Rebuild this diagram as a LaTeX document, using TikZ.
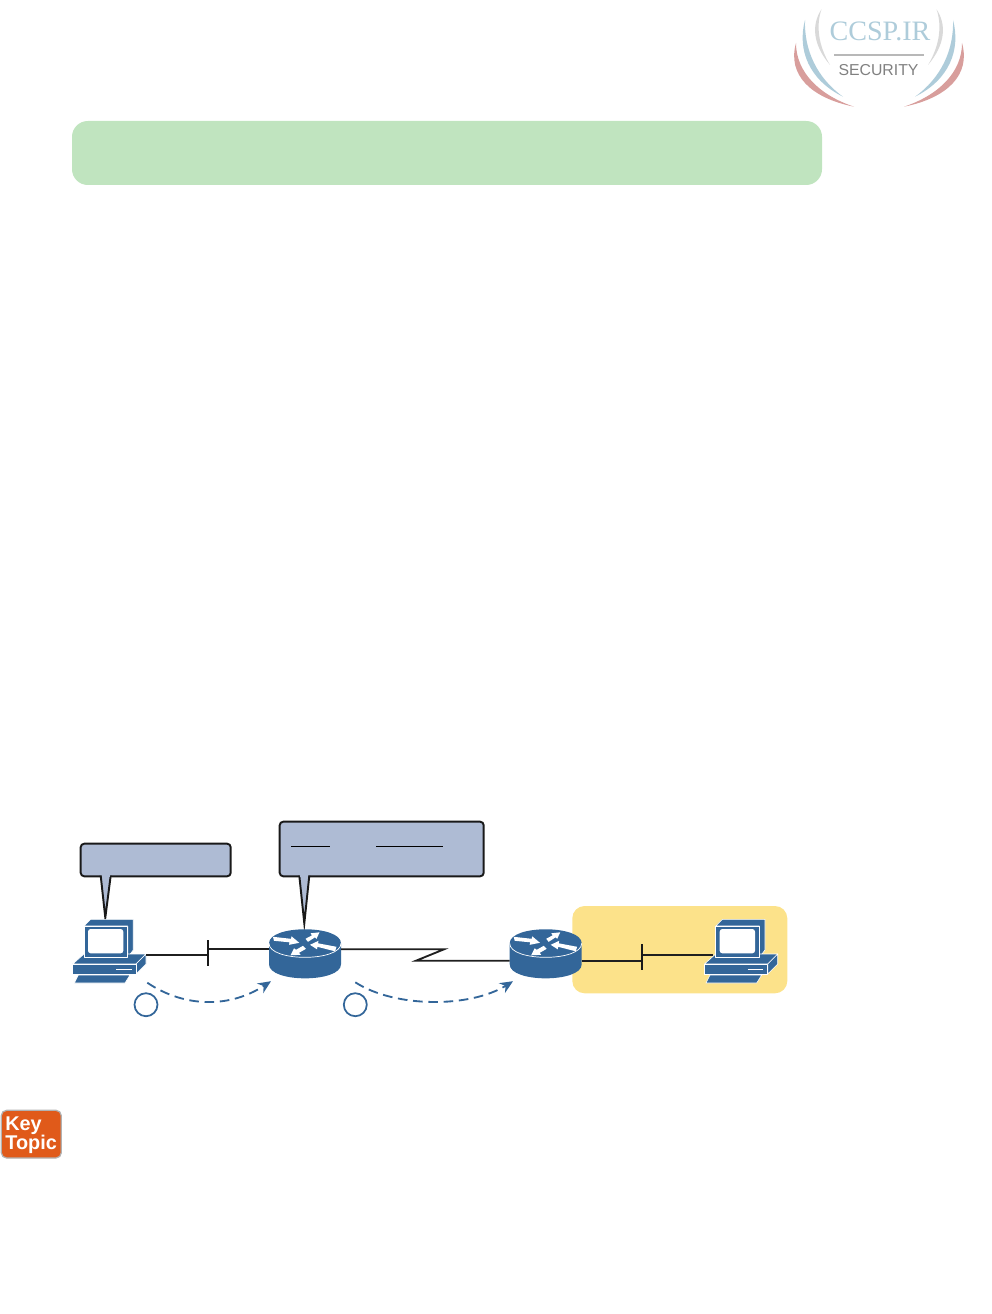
\documentclass[tikz,border=0pt]{standalone}
\usepackage{xcolor}
\usepackage{fontspec}
\usepackage{tikz}
\usetikzlibrary{arrows.meta, calc}
\newfontfamily\logoserif{Liberation Serif}
\newfontfamily\tagsans{Liberation Sans}
\definecolor{iconblue}{HTML}{336699}
\definecolor{bubblefill}{HTML}{AEBBD4}
\definecolor{barfill}{HTML}{C0E4BF}
\definecolor{lanfill}{HTML}{FCE28A}
\definecolor{tagfill}{HTML}{E05A1A}
\definecolor{logoblue}{HTML}{AECCDA}
\definecolor{logored}{HTML}{D89E9C}
\definecolor{logogray}{HTML}{D9D9D9}

\begin{document}
\begin{tikzpicture}[
    x=0.02cm, y=-0.02cm,
    wire/.style={line width=1.05pt, black!88},
    ticklan/.style={line width=1.15pt, black!90},
    bubble/.style={draw=black!90, fill=bubblefill, line width=1.1pt, line join=miter},
    hairline/.style={line width=0.45pt, black},
    flowarc/.style={-{Stealth[length=2.6mm, width=2.3mm]}, iconblue, line width=1.05pt, dash pattern=on 5.5pt off 3.2pt},
    stepring/.style={draw=iconblue, circle, line width=1pt, minimum size=0.46cm, inner sep=0pt},
    iconface/.style={fill=iconblue, draw=white, line width=0.35pt, line join=round},
    logotext/.style={inner sep=0pt, anchor=base},
    tagtext/.style={inner sep=0pt, anchor=base west, text=white, font=\tagsans\bfseries\fontsize{11.3}{11.3}\selectfont},
    pcicon/.pic={
        \path[iconface] (-26,-24) -- (-19.3,-30.7) -- (23.3,-30.7) -- (23.3,0) -- (17.7,7.3) -- (17.7,-24) -- cycle;
        \path[iconface] (-37.3,14) -- (-26,4) -- (36,4) -- (26,14) -- cycle;
        \path[iconface] (26,14) -- (36,4) -- (36,14) -- (26,24) -- cycle;
        \path[iconface] (-37.3,14) rectangle (26,24);
        \path[iconface] (-26,-24) rectangle (17.7,7.3);
        \fill[white, rounded corners=1.5pt] (-22,-21) rectangle (13.3,3.3);
        \draw[white, line width=0.4pt] (6,19.3) -- (21.7,19.3);
        \path[iconface] (-31.7,25) -- (20,25) -- (15,33) -- (-35.7,33) -- cycle;
        \coordinate (-east) at (36,5);
        \coordinate (-west) at (-29,5);
    },
    routericon/.pic={
        \fill[iconblue] (-36,0) -- (-36,21) .. controls (-36,39.7) and (36,39.7) .. (36,21) -- (36,0)
            .. controls (36,-18.7) and (-36,-18.7) .. cycle;
        \draw[white, line width=0.4pt] (-36,0) .. controls (-36,18.7) and (36,18.7) .. (36,0);
        \fill[white] (-32,-6.5) -- (-14,-4.5) -- (-13.5,-7) -- (-5.7,-0.5) -- (-16,1.5) -- (-15.5,-1) -- (-31,-2.5) -- cycle;
        \fill[white] (0.5,-4.5) -- (7,-8) -- (5.5,-10) -- (14.5,-11) -- (11.5,-4.5) -- (10,-6) -- (3,-1.5) -- cycle;
        \fill[white] (31.5,3.5) -- (13,0) -- (13.5,-2.5) -- (5,1.5) -- (12,6) -- (12.5,3.5) -- (30,8) -- cycle;
        \fill[white] (1,5.5) -- (-6,9.5) -- (-4.5,11.5) -- (-14.5,12) -- (-11,5) -- (-9,6.5) -- (-2,2.5) -- cycle;
        \coordinate (-west) at (-36,6);
        \coordinate (-east) at (36,6);
        \coordinate (-lowwest) at (-36,17.4);
        \coordinate (-loweast) at (36,17.4);
    }
]

\useasboundingbox (0,0) rectangle (991,1314);

\foreach \side in {1,-1} {
    \begin{scope}[shift={(879,0)}, xscale=\side]
        \fill[logogray] (-57.5,9.3) .. controls (-68,25) and (-66,45) .. (-49,65) .. controls (-61,45) and (-63,25) .. cycle;
        \fill[logoblue] (-74,20) .. controls (-82,50) and (-70,80) .. (-36,96.7) .. controls (-62,78) and (-75,50) .. cycle;
        \fill[logored] (-83,43) .. controls (-92,75) and (-68,98) .. (-25,106.7) .. controls (-60,95) and (-83,72) .. cycle;
    \end{scope}
}
\node[logotext, text=logoblue, font=\logoserif\fontsize{16}{16}\selectfont] (logoname) at (880,40.7) {CCSP.IR};
\node[logotext, text=black!50, font=\tagsans\fontsize{9}{9}\selectfont] (logotag) at (878.5,76) {SECURITY};
\coordinate (logoruleA) at (834,55);
\coordinate (logoruleB) at (924,55);
\draw[black!28, line width=1.1pt] (logoruleA) -- (logoruleB);

\fill[barfill, rounded corners=9pt] (72,121) rectangle (822,185);
\fill[lanfill, rounded corners=7pt] (572.3,906) rectangle (787.3,993.3);

\draw[bubble, rounded corners=2pt] (80.7,843.7) rectangle (230.7,876.3);
\path[bubble] (100.7,875.6) -- (105.3,917.7) -- (110.7,875.6);
\fill[bubblefill] (101.8,875) rectangle (109.6,877.2);
\draw[bubble, rounded corners=2pt] (279.7,821.7) rectangle (483.7,876.3);
\path[bubble] (299.3,875.6) -- (304.3,923.3) -- (309.3,875.6);
\fill[bubblefill] (300.4,875) rectangle (308.2,877.2);
\coordinate (ruleA) at (291,846.3);
\coordinate (ruleB) at (330,846.3);
\coordinate (ruleC) at (376,846.3);
\coordinate (ruleD) at (442.7,846.3);
\draw[hairline] (ruleA) -- (ruleB);
\draw[hairline] (ruleC) -- (ruleD);

\pic (pcA) at (110,950) {pcicon};
\pic (routerA) at (305,943.3) {routericon};
\pic (routerB) at (545.7,943.3) {routericon};
\pic (pcB) at (741.7,950) {pcicon};

\coordinate (tickAtop) at (207.7,940);
\coordinate (tickAbot) at (207.7,965.7);
\coordinate (tickBtop) at (642,944);
\coordinate (tickBbot) at (642,970);
\coordinate (zigA) at (444,949.3);
\coordinate (zigB) at (416,960.7);
\draw[wire] (pcA-east) -- (pcA-east -| tickAtop);
\draw[wire] (routerA-west -| tickAtop) -- (routerA-west);
\draw[ticklan] (tickAtop) -- (tickAbot);
\draw[wire, line join=miter] (routerA-east) -- (zigA) -- (zigB) -- (routerB-lowwest);
\draw[wire] (routerB-loweast) -- (routerB-loweast -| tickBtop);
\draw[wire] (pcB-west -| tickBtop) -- (pcB-west);
\draw[ticklan] (tickBtop) -- (tickBbot);

\node[stepring] (stepA) at (146,1004.7) {};
\node[stepring] (stepB) at (355.3,1004.7) {};
\coordinate (flowAstart) at (147.3,982.7);
\coordinate (flowAend) at (271,981.2);
\coordinate (flowBstart) at (355.3,982.3);
\coordinate (flowBend) at (513,981.2);
\draw[flowarc] (flowAstart) .. controls (185,1008) and (230,1008) .. (flowAend);
\draw[flowarc] (flowBstart) .. controls (395,1008) and (470,1008) .. (flowBend);

\draw[fill=tagfill, draw=black!30, line width=0.7pt, rounded corners=3pt] (1.3,1110.3) rectangle (61.3,1158);
\node[tagtext] (tagKey) at (5,1130) {Key};
\node[tagtext] (tagTopic) at (5,1149) {Topic};

\end{tikzpicture}
\end{document}
